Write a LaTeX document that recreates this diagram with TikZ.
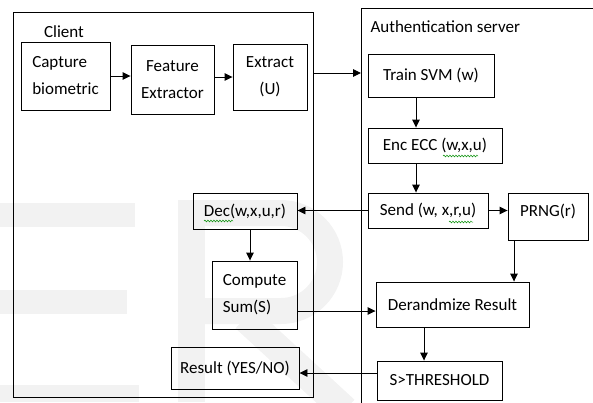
\documentclass[tikz,border=0pt]{standalone}
\usepackage{fontspec}
\setmainfont{Carlito}
\usetikzlibrary{arrows.meta,decorations.pathmorphing}
\begin{document}
\begin{tikzpicture}[x=1pt,y=-1pt,
  font=\fontsize{17}{27}\selectfont,
  box/.style={draw, line width=0.9pt, inner sep=3pt, align=center},
  frame/.style={draw, line width=1pt, inner sep=0pt},
  arr/.style={line width=0.9pt, -{Triangle[length=8pt,width=7.5pt]}},
  wm/.style={black!5},
  squig/.style={draw=green!55!black, line width=0.5pt, decorate,
    decoration={snake, amplitude=0.9pt, segment length=3pt}}]
\clip (0,0) rectangle (593,402);
% watermark
\fill[wm] (0,203) rectangle (135,227);
\fill[wm] (0,290) rectangle (127,314);
\fill[wm] (0,385) rectangle (139,402);
\fill[wm] (178,200) rectangle (205,402);
\draw[wm, line width=26pt] (192,213) -- (281,213) arc[start angle=90, end angle=-90, radius=49pt] -- (192,311);
\draw[wm, line width=28pt] (245,318) -- (345,410);
% frames
\node[frame, minimum width=300pt, minimum height=385pt, anchor=north west] (client) at (13,12) {};
\node[frame, minimum width=260pt, minimum height=410pt, anchor=north west] (server) at (361,8) {};
\node (clientlbl) at (64,32) {Client};
\node[anchor=west] (serverlbl) at (367,27) {Authentication server};
% client boxes
\node[box, minimum width=89pt, minimum height=68pt, align=left] (cap) at (65.5,76) {Capture\\biometric};
\node[box, minimum width=83pt, minimum height=69pt] (feat) at (172.5,79.5) {Feature\\Extractor};
\node[box, minimum width=74pt, minimum height=66pt] (ext) at (270,77) {Extract\\(U)};
\node[box, minimum width=104pt, minimum height=36pt] (dec) at (245,211) {Dec(w,x,u,r)};
\node[box, minimum width=85pt, minimum height=68pt, align=left] (comp) at (254.5,295) {Compute\\Sum(S)};
\node[box, minimum width=128pt, minimum height=42pt] (res) at (235,368) {Result (YES/NO)};
% server boxes
\node[box, minimum width=126pt, minimum height=43pt] (train) at (431,75.5) {Train SVM (w)};
\node[box, minimum width=134pt, minimum height=35pt] (enc) at (435,145.5) {Enc ECC (w,x,u)};
\node[box, minimum width=120pt, minimum height=35pt] (send) at (428,210.5) {Send (w, x,r,u)};
\node[box, minimum width=80pt, text height=20pt, text depth=21pt] (prng) at (548,216.5) {PRNG(r)};
\node[box, minimum width=153pt, minimum height=45pt] (der) at (452.5,304.5) {Derandmize Result};
\node[box, minimum width=125pt, minimum height=39pt] (thr) at (439.5,380.5) {S>THRESHOLD};
% spell-check squiggles
\draw[squig] (443,156) -- (478,156);
\draw[squig] (204,221) -- (233,221);
\draw[squig] (449,222) -- (473,222);
% helper coordinates
\coordinate (r1) at (0,73);
\coordinate (ax) at (416,0);
\coordinate (bx) at (250,0);
\coordinate (cy) at (0,311);
\coordinate (dx) at (514,0);
\coordinate (ex) at (424,0);
\coordinate (fy) at (0,373);
% connectors
\draw[arr] (cap.east) -- (cap.east -| feat.west);
\draw[arr] (feat.east |- ext) -- (ext.west);
\draw[arr] (client.east |- r1) -- (server.west |- r1);
\draw[arr] (train.south -| ax) -- (enc.north -| ax);
\draw[arr] (enc.south -| ax) -- (send.north -| ax);
\draw[arr] (send.east) -- (send.east -| prng.west);
\draw[arr] (send.west) -- (send.west -| dec.east);
\draw[arr] (dec.south -| bx) -- (comp.north -| bx);
\draw[arr] (comp.east |- cy) -- (der.west |- cy);
\draw[arr] (prng.south -| dx) -- (der.north -| dx);
\draw[arr] (der.south -| ex) -- (thr.north -| ex);
\draw[arr] (thr.west |- fy) -- (res.east |- fy);
\end{tikzpicture}
\end{document}
